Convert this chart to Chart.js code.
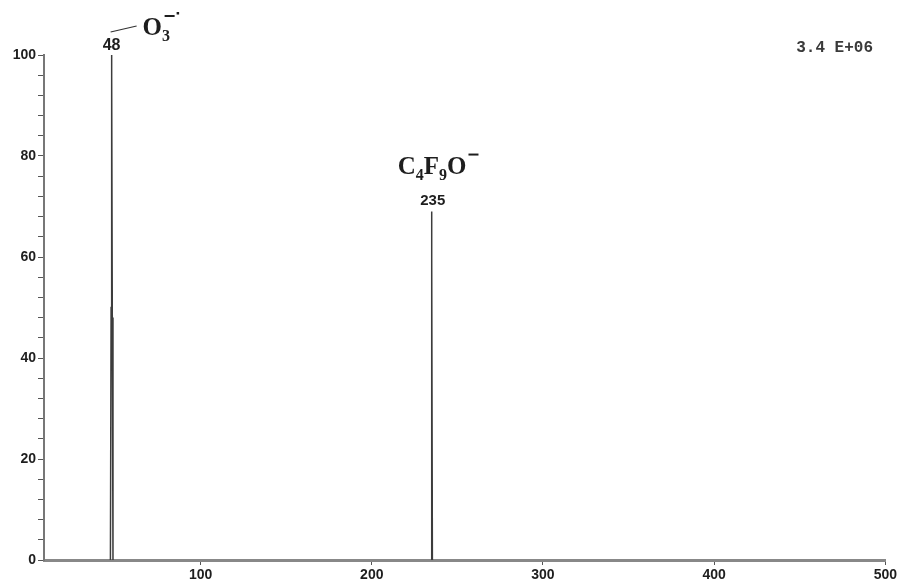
<!DOCTYPE html>
<html>
<head>
<meta charset="utf-8">
<script src="https://cdn.jsdelivr.net/npm/chart.js@4"></script>
<style>
  html, body { margin: 0; padding: 0; background: #fff; }
  #wrap { width: 899px; height: 582px; }
</style>
</head>
<body>
<div id="wrap"><canvas id="spectrum"></canvas></div>
<script>
// Axis setup
const mzMin = 8.5;
const mzMax = 500;
const mzTicks = [100, 200, 300, 400, 500];
const intensityTicks = [0, 4, 8, 12, 16, 20, 24, 28, 32, 36, 40, 44, 48, 52, 56, 60, 64, 68, 72, 76, 80, 84, 88, 92, 96, 100];
const intensityLabels = [0, 20, 40, 60, 80, 100];

// Peaks (profile points)
const peak48Mz = [47.3, 47.7, 47.9, 48.0, 48.2, 48.4, 48.8];
const peak48Int = [0, 50, 84, 100, 96, 48, 0];
const peak235Mz = [234.6, 234.85, 235.0, 235.15, 235.4];
const peak235Int = [0, 52, 69, 60, 0];

const scaleFactor = '3.4 E+06';

const toPoints = (xs, ys) => xs.map((x, i) => ({ x, y: ys[i] }));

// draws a run of [text, font, dy] pieces left to right
function drawPieces(ctx, x, y, pieces) {
  pieces.forEach(([t, f, dy]) => {
    ctx.font = f;
    ctx.fillText(t, x, y + dy);
    x += ctx.measureText(t).width;
  });
  return x;
}

const annotations = {
  id: 'annotations',
  afterDraw(chart) {
    const { ctx, scales: { x, y } } = chart;
    ctx.save();
    ctx.fillStyle = '#1e1e1e';
    ctx.strokeStyle = '#333';
    ctx.textBaseline = 'alphabetic';

    const big = 'bold 25px "Liberation Serif", "Times New Roman", serif';
    const sub = 'bold 16px "Liberation Serif", "Times New Roman", serif';

    // peak 48
    const p1x = x.getPixelForValue(48);
    const p1y = y.getPixelForValue(100);
    ctx.textAlign = 'center';
    ctx.font = 'bold 16px "Liberation Sans", Arial, sans-serif';
    ctx.fillText('48', p1x, p1y - 5);
    ctx.lineWidth = 1.2;
    ctx.beginPath();
    ctx.moveTo(p1x - 1, p1y - 23);
    ctx.lineTo(p1x + 25, p1y - 29);
    ctx.stroke();
    ctx.textAlign = 'left';
    drawPieces(ctx, p1x + 31, p1y - 20, [['O', big, 0], ['3', sub, 6]]);
    // radical anion mark: minus and dot
    ctx.fillRect(p1x + 53, p1y - 40, 10, 2);
    ctx.fillRect(p1x + 65, p1y - 43, 2.5, 2.5);

    // peak 235
    const p2x = x.getPixelForValue(235);
    const p2y = y.getPixelForValue(69);
    ctx.textAlign = 'center';
    ctx.font = 'bold 15px "Liberation Sans", Arial, sans-serif';
    ctx.fillText('235', p2x + 1, p2y - 7);
    ctx.textAlign = 'left';
    const endX = drawPieces(ctx, p2x - 34, p2y - 38,
      [['C', big, 0], ['4', sub, 6], ['F', big, 0], ['9', sub, 6], ['O', big, 0]]);
    ctx.fillRect(endX + 2, p2y - 58, 10, 2);

    // scale factor
    ctx.font = 'bold 16px "Liberation Mono", "Courier New", monospace';
    ctx.fillStyle = '#3a3a3a';
    ctx.textAlign = 'right';
    ctx.fillText(scaleFactor, 873, 52);
    ctx.restore();
  }
};

const lineStyle = { showLine: true, borderColor: '#3c3c3c', borderWidth: 1.5, pointRadius: 0, tension: 0, fill: false };
const tickFont = { family: '"Liberation Sans", Arial, sans-serif', size: 14, weight: 'bold' };

new Chart(document.getElementById('spectrum'), {
  type: 'scatter',
  data: {
    datasets: [
      { label: 'm/z 48', data: toPoints(peak48Mz, peak48Int), ...lineStyle },
      { label: 'm/z 235', data: toPoints(peak235Mz, peak235Int), ...lineStyle }
    ]
  },
  options: {
    responsive: true,
    maintainAspectRatio: false,
    animation: false,
    layout: { padding: { top: 55, right: 13, left: 0, bottom: 0 } },
    plugins: { legend: { display: false }, tooltip: { enabled: false } },
    scales: {
      x: {
        type: 'linear',
        min: mzMin,
        max: mzMax,
        afterBuildTicks: s => { s.ticks = mzTicks.map(v => ({ value: v })); },
        afterFit: s => { s.height = 22; },
        border: { color: '#888', width: 3 },
        grid: { drawOnChartArea: false, tickLength: 5, tickColor: '#555' },
        ticks: { color: '#1e1e1e', font: tickFont, padding: 2, maxRotation: 0 }
      },
      y: {
        min: 0,
        max: 100,
        afterBuildTicks: s => { s.ticks = intensityTicks.map(v => ({ value: v })); },
        afterFit: s => { s.width = 44; },
        border: { color: '#777', width: 2 },
        grid: { drawOnChartArea: false, tickLength: 6, tickColor: '#555' },
        ticks: {
          color: '#1e1e1e',
          font: tickFont,
          padding: 2,
          autoSkip: false,
          callback: v => intensityLabels.includes(v) ? v : ''
        }
      }
    }
  },
  plugins: [annotations]
});
</script>
</body>
</html>
